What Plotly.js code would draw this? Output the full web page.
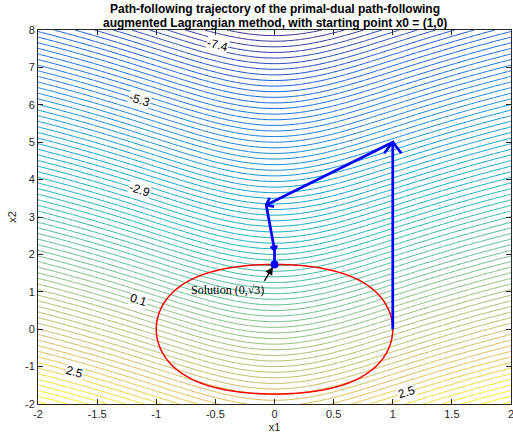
<!DOCTYPE html>
<html>
<head>
<meta charset="utf-8">
<script src="https://cdn.plot.ly/plotly-3.0.1.min.js"></script>
<style>html,body{margin:0;padding:0;background:#fff;}#chart{width:513px;height:435px;}</style>
</head>
<body>
<div id="chart"></div>
<script>
// ---- data ----
const x1Range = [-2, 2];
const x2Range = [-2, 8];
const x1TickVals = [-2, -1.5, -1, -0.5, 0, 0.5, 1, 1.5, 2];
const x1TickText = ['-2', '-1.5', '-1', '-0.5', '0', '0.5', '1', '1.5', '2'];
const x2TickVals = [-2, -1, 0, 1, 2, 3, 4, 5, 6, 7, 8];
const x2TickText = ['-2', '-1', '0', '1', '2', '3', '4', '5', '6', '7', '8'];

const titleLines = [
  'Path-following trajectory of the primal-dual path-following',
  'augmented Lagrangian method, with starting point x0 = (1,0)'
];

// iterates of the method (trajectory)
const pathX1 = [1, 1, -0.07, 0.0, 0];
const pathX2 = [0, 5, 3.32, 2.12, 1.732];
// solution point
const solX1 = [0];
const solX2 = [1.732];
const solText = 'Solution (0,√3)';

// contour labels shown on the plot
const labelText = ['-7.4', '-5.3', '-2.9', '0.1', '2.5', '2.5'];
const labelX1 = [-0.48, -1.14, -1.14, -1.15, -1.69, 1.12];
const labelX2 = [7.6, 6.13, 3.72, 0.78, -1.14, -1.68];

// contour levels
const levelStart = -7.85, levelEnd = 3.55, levelStep = 0.15;

// objective f(x) = ln(1 + x1^2) - x2 ; constraint c(x) = (1 + x1^2)^2 + x2^2 - 4
function f(a, b) { return Math.log(1 + a * a) - b; }
function c(a, b) { return Math.pow(1 + a * a, 2) + b * b - 4; }

const gx = [], gy = [];
for (let i = 0; i <= 200; i++) gx.push(-2 + i * 0.02);
for (let j = 0; j <= 200; j++) gy.push(-2 + j * 0.05);
const zf = gy.map(b => gx.map(a => f(a, b)));
const zc = gy.map(b => gx.map(a => c(a, b)));

const parula = [
  [0.0, 'rgb(53,42,135)'], [0.125, 'rgb(15,92,221)'], [0.25, 'rgb(18,125,216)'],
  [0.375, 'rgb(7,156,207)'], [0.5, 'rgb(21,177,180)'], [0.625, 'rgb(89,189,140)'],
  [0.75, 'rgb(165,190,107)'], [0.875, 'rgb(225,185,82)'], [1.0, 'rgb(249,251,14)']
];

// plot-area geometry (pixels)
const W = 513, H = 435, M = {l: 38, r: 2, t: 30, b: 31};
const sx = (W - M.l - M.r) / (x1Range[1] - x1Range[0]);
const sy = (H - M.t - M.b) / (x2Range[1] - x2Range[0]);

// open chevron arrowheads at the end of each step (except the last)
const headLen = [14, 8, 5];
const headAng = 38 * Math.PI / 180;
const hx = [], hy = [];
for (let k = 0; k < headLen.length; k++) {
  const px = (pathX1[k + 1] - pathX1[k]) * sx, py = (pathX2[k + 1] - pathX2[k]) * sy;
  const n = Math.hypot(px, py), ux = -px / n, uy = -py / n;
  for (const s of [1, -1]) {
    const ca = Math.cos(s * headAng), sa = Math.sin(s * headAng);
    const ax = (ux * ca - uy * sa) * headLen[k], ay = (ux * sa + uy * ca) * headLen[k];
    hx.push(pathX1[k + 1] + ax / sx, pathX1[k + 1], null);
    hy.push(pathX2[k + 1] + ay / sy, pathX2[k + 1], null);
  }
}

const traces = [
  {
    type: 'contour', x: gx, y: gy, z: zf,
    autocontour: false,
    contours: {start: levelStart, end: levelEnd, size: levelStep, coloring: 'lines'},
    colorscale: parula, zmin: -8, zmax: 3.6,
    line: {width: 1, smoothing: 1}, showscale: false, hoverinfo: 'skip'
  },
  {
    type: 'contour', x: gx, y: gy, z: zc,
    autocontour: false,
    contours: {start: 0, end: 0, size: 1, coloring: 'none'},
    line: {color: 'rgb(255,0,0)', width: 1.5, smoothing: 1}, showscale: false, hoverinfo: 'skip'
  },
  {
    type: 'scatter', mode: 'lines', x: pathX1, y: pathX2,
    line: {color: 'rgb(0,0,255)', width: 2.7}, hoverinfo: 'skip'
  },
  {
    type: 'scatter', mode: 'lines', x: hx, y: hy,
    line: {color: 'rgb(0,0,255)', width: 2.7}, hoverinfo: 'skip'
  },
  {
    type: 'scatter', mode: 'markers', x: solX1, y: solX2,
    marker: {color: 'rgb(0,0,255)', size: 8}, hoverinfo: 'skip'
  }
];

const annotations = labelText.map((t, i) => {
  const a = labelX1[i];
  const slope = 2 * a / (1 + a * a) * sy / sx;
  return {
    x: labelX1[i], y: labelX2[i], xref: 'x', yref: 'y', text: t, showarrow: false,
    textangle: -Math.atan(slope) * 180 / Math.PI,
    font: {family: 'Liberation Sans, Arial, sans-serif', size: 12, color: '#000'},
    bgcolor: '#fff', borderpad: 0
  };
});
annotations.push({
  x: solX1[0], y: solX2[0], xref: 'x', yref: 'y', text: '', showarrow: true,
  ax: -11, ay: 18, arrowhead: 2, arrowsize: 1.2, arrowwidth: 1.3, arrowcolor: '#000', standoff: 3
});
annotations.push({
  x: solX1[0], y: solX2[0], xref: 'x', yref: 'y', text: solText, showarrow: false,
  xshift: -47, yshift: -26,
  font: {family: 'Liberation Serif, Times New Roman, serif', size: 12, color: '#000'}
});
// two-line bold title placed above the plot area
const titleShift = [21, 7];
titleLines.forEach((t, i) => {
  annotations.push({
    x: 0.5, y: 1, xref: 'paper', yref: 'paper', xanchor: 'center', yanchor: 'middle',
    yshift: titleShift[i], text: '<b>' + t + '</b>', showarrow: false, borderpad: 0,
    font: {family: 'Liberation Sans, Arial, sans-serif', size: 12, color: '#000'}
  });
});

const axisFont = {family: 'Liberation Sans, Arial, sans-serif', size: 11, color: '#262626'};
const layout = {
  width: W, height: H, margin: M,
  paper_bgcolor: '#fff', plot_bgcolor: '#fff', showlegend: false,
  xaxis: {
    range: x1Range, tickvals: x1TickVals, ticktext: x1TickText,
    ticks: 'inside', ticklen: 5, tickcolor: '#262626', mirror: 'ticks',
    ticklabeloverflow: 'allow',
    showline: true, linecolor: '#262626', linewidth: 1, showgrid: false, zeroline: false,
    tickfont: axisFont, title: {text: 'x1', font: axisFont, standoff: 4}
  },
  yaxis: {
    range: x2Range, tickvals: x2TickVals, ticktext: x2TickText,
    ticks: 'inside', ticklen: 5, tickcolor: '#262626', mirror: 'ticks',
    ticklabeloverflow: 'allow',
    showline: true, linecolor: '#262626', linewidth: 1, showgrid: false, zeroline: false,
    tickfont: axisFont, title: {text: 'x2', font: axisFont, standoff: 6}
  },
  annotations: annotations
};

Plotly.newPlot('chart', traces, layout, {displayModeBar: false, staticPlot: true});
</script>
</body>
</html>
